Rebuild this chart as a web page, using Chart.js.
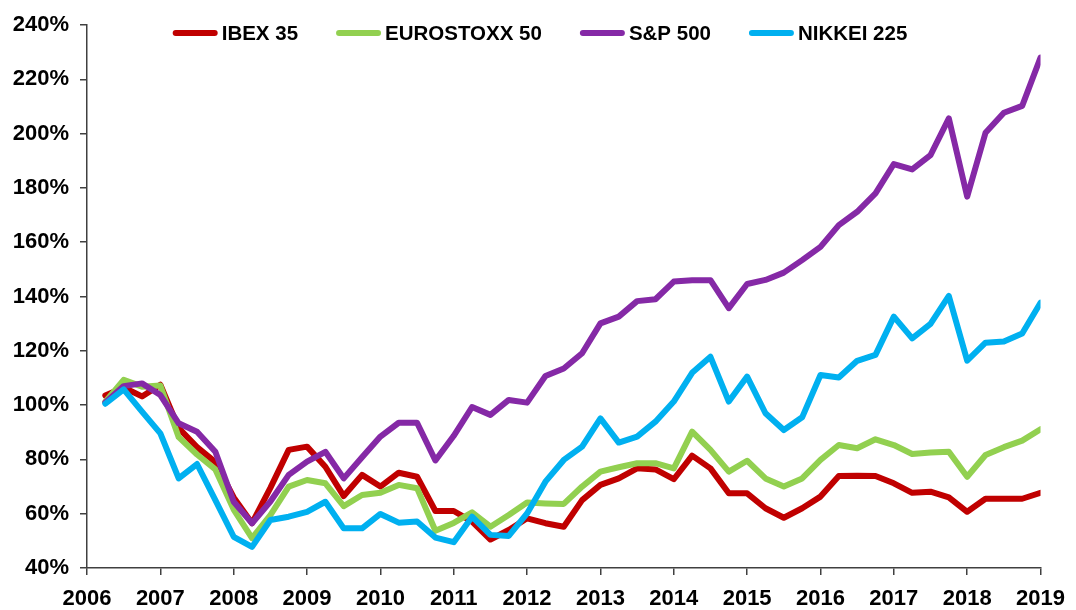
<!DOCTYPE html>
<html lang="es">
<head>
<meta charset="utf-8">
<title>IBEX 35, EUROSTOXX 50, S&amp;P 500, NIKKEI 225</title>
<script src="https://cdn.jsdelivr.net/npm/chart.js@4/dist/chart.umd.min.js"></script>
<style>
  html, body { margin: 0; padding: 0; background: #fff; }
  #grafico { display: block; }
</style>
</head>
<body>
<canvas id="grafico" width="1076" height="610"></canvas>
<script>
// trimestres (año-mes) y evolución de cada índice en % sobre el inicio
const trimestres = [
  '2006-04', '2006-07', '2006-10', '2007-01', '2007-04', '2007-07', '2007-10',
  '2008-01', '2008-04', '2008-07', '2008-10', '2009-01', '2009-04', '2009-07', '2009-10',
  '2010-01', '2010-04', '2010-07', '2010-10', '2011-01', '2011-04', '2011-07', '2011-10',
  '2012-01', '2012-04', '2012-07', '2012-10', '2013-01', '2013-04', '2013-07', '2013-10',
  '2014-01', '2014-04', '2014-07', '2014-10', '2015-01', '2015-04', '2015-07', '2015-10',
  '2016-01', '2016-04', '2016-07', '2016-10', '2017-01', '2017-04', '2017-07', '2017-10',
  '2018-01', '2018-04', '2018-07', '2018-10', '2019-01'
];
const ibex35 = [
  103.5, 106.5, 103.2, 107.5, 91.5, 84.5, 79, 66, 56.5, 69.5, 83.5, 84.7, 77.3, 66.5, 74.3,
  70, 75.1, 73.6, 61, 61, 57.1, 50.5, 54, 58.3, 56.5, 55.2, 65, 70.6, 73, 76.7, 76.3,
  72.7, 81.4, 76.7, 67.5, 67.5, 62, 58.5, 62, 66.3, 73.9, 74, 73.9, 71.2, 67.7, 68.1, 66,
  60.7, 65.5, 65.5, 65.5, 67.7
];
const eurostoxx50 = [
  101.3, 109.3, 106.8, 107.2, 88.2, 81.8, 76.3, 61.5, 51, 59.5, 70, 72.4, 71.2, 62.8, 66.9,
  67.7, 70.6, 69.4, 53.7, 56.6, 60.5, 55.2, 59.5, 64.1, 63.8, 63.6, 70, 75.5, 77.1, 78.6, 78.6,
  76.7, 90.2, 83.5, 75.5, 79.5, 73, 70, 73, 79.8, 85.3, 84.1, 87.4, 85.3, 82, 82.5, 82.8,
  73.6, 81.6, 84.5, 86.9, 91.1
];
const sp500 = [
  101, 107, 108, 103.7, 93.3, 90.2, 82.8, 64.4, 56.5, 64.5, 74.3, 79.2, 82.8, 73, 80.8,
  88.4, 93.5, 93.5, 79.6, 88.7, 99.3, 96.4, 101.9, 100.9, 110.7, 113.5, 119.1, 130.1, 132.6, 138.3, 139,
  145.5, 146, 146, 135.7, 144.6, 146.1, 148.8, 153.4, 158.3, 166.3, 171.2, 178, 188.8, 186.8, 192.1, 205.6,
  176.8, 200.3, 207.7, 210.2, 228
];
const nikkei225 = [
  100.5, 105.8, 97.6, 89.6, 73, 78.3, 65, 51.5, 47.8, 57.7, 58.9, 60.7, 64.4, 54.6, 54.6,
  59.9, 56.7, 57.1, 51.2, 49.5, 58.9, 52.2, 51.8, 60.1, 71.8, 79.8, 84.7, 95.1, 86.2, 88.4, 93.9,
  101.3, 111.9, 117.8, 101.3, 110.5, 97, 90.8, 95.5, 111.1, 110.2, 116.3, 118.5, 132.6, 124.6, 129.9, 140.2,
  116.4, 123, 123.4, 126.4, 137.7
];

const fuente = "'Liberation Sans Narrow', 'Liberation Sans', Arial, sans-serif";
const tamEjes = 22;
const tamLeyenda = 20.5;
const colorEje = '#404040';

// pasa '2006-04' a un año decimal para el eje x
function aAnio(t) {
  const [a, m] = t.split('-').map(Number);
  return a + (m - 1) / 12;
}
function serie(valores) {
  return valores.map((v, i) => ({ x: aAnio(trimestres[i]), y: v }));
}

// la leyenda va dentro del área del gráfico, como en Excel
const leyenda = {
  id: 'leyenda',
  afterDraw(chart) {
    const ctx = chart.ctx;
    const items = chart.data.datasets;
    const largoLinea = 45, hueco = 4, separacion = 38;
    ctx.save();
    ctx.font = `bold ${tamLeyenda}px ${fuente}`;
    const anchos = items.map(d => ctx.measureText(d.label).width);
    const total = anchos.reduce((s, w) => s + largoLinea + hueco + w, 0) + separacion * (items.length - 1);
    let x = chart.width / 2 - total / 2 + 2;
    const y = 33;
    ctx.textBaseline = 'middle';
    items.forEach((d, i) => {
      ctx.strokeStyle = d.borderColor;
      ctx.lineWidth = 6;
      ctx.lineCap = 'round';
      ctx.beginPath();
      ctx.moveTo(x + 3, y);
      ctx.lineTo(x + largoLinea - 3, y);
      ctx.stroke();
      x += largoLinea + hueco;
      ctx.fillStyle = '#000';
      ctx.fillText(d.label, x, y + 1);
      x += anchos[i] + separacion;
    });
    ctx.restore();
  }
};

const linea = (label, datos, color, orden) => ({
  label,
  data: serie(datos),
  borderColor: color,
  backgroundColor: color,
  borderWidth: 6,
  pointRadius: 0,
  tension: 0,
  borderCapStyle: 'round',
  borderJoinStyle: 'round',
  order: orden
});

new Chart(document.getElementById('grafico'), {
  type: 'line',
  data: {
    datasets: [
      linea('IBEX 35', ibex35, '#C00000', 4),
      linea('EUROSTOXX 50', eurostoxx50, '#92D050', 3),
      linea('S&P 500', sp500, '#8529A6', 2),
      linea('NIKKEI 225', nikkei225, '#00B0F0', 1)
    ]
  },
  options: {
    responsive: false,
    animation: false,
    layout: { padding: { top: 25, right: 26, left: 0, bottom: 0 } },
    plugins: {
      legend: { display: false },
      tooltip: { enabled: false }
    },
    scales: {
      x: {
        type: 'linear',
        min: 2006,
        max: 2019,
        afterFit: (s) => { s.height = 42; },
        ticks: {
          stepSize: 1,
          autoSkip: false,
          maxRotation: 0,
          padding: 11,
          color: '#000',
          font: { family: fuente, size: tamEjes, weight: 'bold' },
          callback: (v) => String(v)
        },
        grid: { drawOnChartArea: false, drawTicks: true, tickLength: 7, color: colorEje, lineWidth: 1.5 },
        border: { display: true, color: colorEje, width: 1.5 }
      },
      y: {
        min: 40,
        max: 240,
        afterFit: (s) => { s.width = 87; },
        ticks: {
          stepSize: 20,
          padding: 11,
          color: '#000',
          font: { family: fuente, size: tamEjes, weight: 'bold' },
          callback: (v) => v + '%'
        },
        grid: { drawOnChartArea: false, drawTicks: true, tickLength: 7, color: colorEje, lineWidth: 1.5 },
        border: { display: true, color: colorEje, width: 1.5 }
      }
    }
  },
  plugins: [leyenda]
});
</script>
</body>
</html>
